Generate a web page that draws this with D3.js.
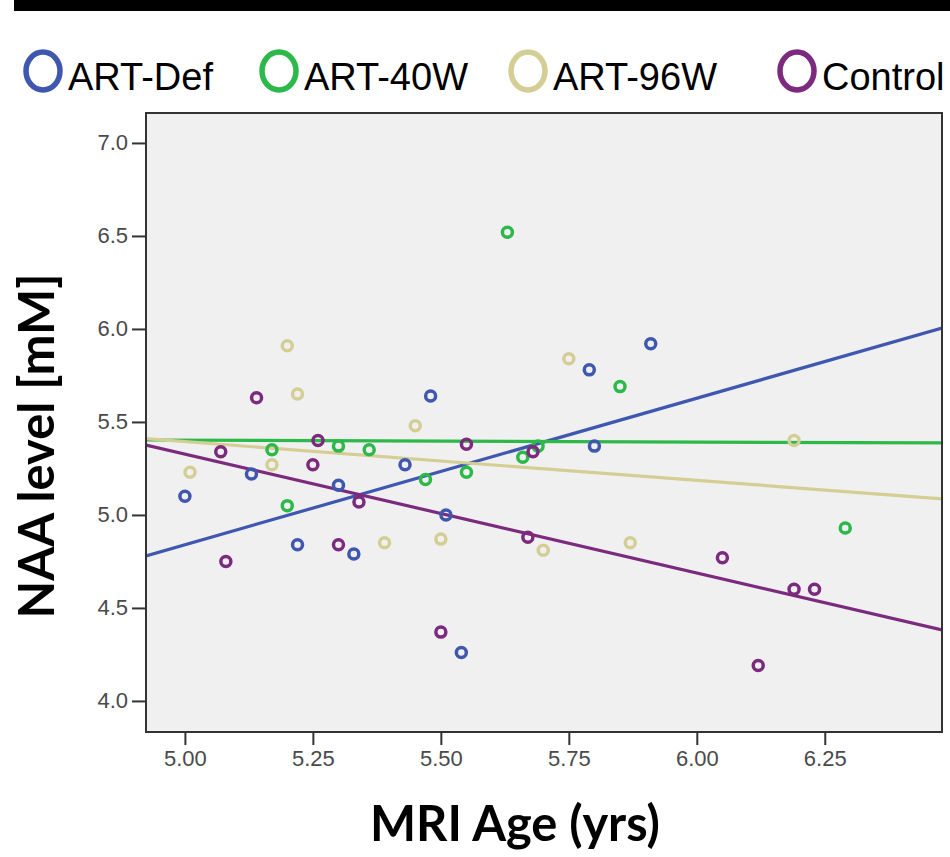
<!DOCTYPE html>
<html>
<head>
<meta charset="utf-8">
<script src="https://cdn.jsdelivr.net/npm/d3@7"></script>
<style>
  body { margin: 0; background: #fff; }
  svg { display: block; }
</style>
</head>
<body>
<svg id="chart" width="950" height="857"></svg>
<script>
// groups and colours
var groups = ["ART-Def", "ART-40W", "ART-96W", "Control"];
var colors = ["#3f57ae", "#2db84a", "#d4ce95", "#7b2a7e"];

// points: [age, NAA]
var artDef = [[5.00,5.10],[5.13,5.22],[5.22,4.84],[5.30,5.16],[5.33,4.79],[5.43,5.27],
  [5.48,5.64],[5.51,5.00],[5.54,4.26],[5.79,5.78],[5.80,5.37],[5.91,5.92]];
var art40w = [[5.17,5.35],[5.20,5.05],[5.30,5.37],[5.36,5.35],[5.47,5.19],[5.55,5.23],
  [5.63,6.52],[5.66,5.31],[5.69,5.37],[5.85,5.69],[6.29,4.93]];
var art96w = [[5.01,5.23],[5.17,5.27],[5.20,5.91],[5.22,5.65],[5.39,4.85],[5.45,5.48],
  [5.50,4.87],[5.70,4.81],[5.75,5.84],[5.87,4.85],[6.19,5.40]];
var control = [[5.07,5.34],[5.08,4.75],[5.14,5.63],[5.25,5.27],[5.26,5.40],[5.30,4.84],
  [5.34,5.07],[5.50,4.37],[5.55,5.38],[5.67,4.88],[5.68,5.34],[6.05,4.77],[6.12,4.19],
  [6.19,4.60],[6.23,4.60]];
var series = [artDef, art40w, art96w, control];

// fit lines, NAA value at the left and right edge of the plot
var fitLeft = [4.78, 5.403, 5.41, 5.376];
var fitRight = [6.005, 5.387, 5.086, 4.382];

var xTicks = [5.00, 5.25, 5.50, 5.75, 6.00, 6.25];
var yTicks = [4.0, 4.5, 5.0, 5.5, 6.0, 6.5, 7.0];
var xDomain = [4.924, 6.479];
var yDomain = [3.833, 7.161];

(function() {
  var svg = d3.select('#chart');
  var pLeft = 146, pRight = 942, pTop = 113, pBottom = 732;

  var x = d3.scaleLinear().domain(xDomain).range([pLeft, pRight]);
  var y = d3.scaleLinear().domain(yDomain).range([pBottom, pTop]);

  // black bar across the top
  svg.append('rect').attr('x', 14).attr('y', 0).attr('width', 936).attr('height', 11).attr('fill', '#000');

  // legend
  var legX = [43, 279, 528, 797];
  groups.forEach(function(g, i) {
    svg.append('ellipse')
      .attr('cx', legX[i]).attr('cy', 71)
      .attr('rx', 17).attr('ry', 19)
      .attr('fill', 'none').attr('stroke', colors[i]).attr('stroke-width', 5.5);
    svg.append('text')
      .attr('x', legX[i] + 25).attr('y', 90)
      .attr('font-family', 'Liberation Sans, Arial, sans-serif')
      .attr('font-size', 38)
      .attr('fill', '#000')
      .text(g);
  });

  // plot background
  svg.append('rect')
    .attr('x', pLeft).attr('y', pTop)
    .attr('width', pRight - pLeft).attr('height', pBottom - pTop)
    .attr('fill', '#f0f0f0');

  svg.append('clipPath').attr('id', 'clip')
    .append('rect').attr('x', pLeft).attr('y', pTop).attr('width', pRight - pLeft).attr('height', pBottom - pTop);
  var plot = svg.append('g').attr('clip-path', 'url(#clip)');

  // fit lines
  groups.forEach(function(g, i) {
    plot.append('line')
      .attr('x1', x(xDomain[0])).attr('y1', y(fitLeft[i]))
      .attr('x2', x(xDomain[1])).attr('y2', y(fitRight[i]))
      .attr('stroke', colors[i]).attr('stroke-width', 3.2);
  });

  // points
  series.forEach(function(pts, i) {
    plot.selectAll('circle.s' + i)
      .data(pts)
      .enter()
      .append('circle')
      .attr('class', 's' + i)
      .attr('cx', function(d) { return x(d[0]); })
      .attr('cy', function(d) { return y(d[1]); })
      .attr('r', 5)
      .attr('fill', 'none')
      .attr('stroke', colors[i])
      .attr('stroke-width', 3.5);
  });

  // axes
  var xAxis = d3.axisBottom(x).tickValues(xTicks).tickFormat(d3.format('.2f')).tickSize(13).tickPadding(5);
  var yAxis = d3.axisLeft(y).tickValues(yTicks).tickFormat(d3.format('.1f')).tickSize(14).tickPadding(4);

  var gx = svg.append('g').attr('transform', 'translate(0,' + pBottom + ')').call(xAxis);
  var gy = svg.append('g').attr('transform', 'translate(' + pLeft + ',0)').call(yAxis);
  [gx, gy].forEach(function(g) {
    g.select('.domain').remove();
    g.attr('font-size', null).attr('font-family', null);
    g.selectAll('line').attr('stroke', '#333').attr('stroke-width', 2);
    g.selectAll('text')
      .attr('font-family', 'Liberation Sans, Arial, sans-serif')
      .attr('font-size', 22)
      .attr('fill', '#4a4a4a');
  });

  // frame
  svg.append('rect')
    .attr('x', pLeft).attr('y', pTop)
    .attr('width', pRight - pLeft).attr('height', pBottom - pTop)
    .attr('fill', 'none').attr('stroke', '#333').attr('stroke-width', 2);

  // axis titles
  svg.append('text')
    .attr('x', 515).attr('y', 841)
    .attr('text-anchor', 'middle')
    .attr('font-family', 'Lato, sans-serif').attr('font-weight', 'bold')
    .attr('font-size', 50)
    .attr('textLength', 290).attr('lengthAdjust', 'spacingAndGlyphs')
    .text('MRI Age (yrs)');

  svg.append('text')
    .attr('transform', 'translate(54,446) rotate(-90)')
    .attr('text-anchor', 'middle')
    .attr('font-family', 'Lato, sans-serif').attr('font-weight', 'bold')
    .attr('font-size', 50)
    .attr('textLength', 345).attr('lengthAdjust', 'spacingAndGlyphs')
    .text('NAA level [mM]');
})();
</script>
</body>
</html>
